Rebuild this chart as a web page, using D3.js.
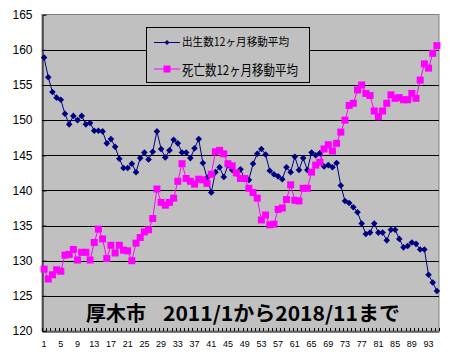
<!DOCTYPE html>
<html><head><meta charset="utf-8">
<script src="https://cdn.jsdelivr.net/npm/d3@7"></script>
<style>body{margin:0;background:#fff}svg{display:block}</style>
</head><body>
<svg id="c" width="450" height="358"></svg>
<script>
const births = [158.9,156.1,154.0,153.2,152.9,150.9,149.4,150.6,150.0,150.6,
149.4,149.6,148.5,148.5,148.4,146.7,147.3,146.2,144.5,143.2,
143.2,143.8,142.6,144.6,145.4,144.4,145.5,148.4,145.9,144.7,
145.7,147.2,146.7,145.4,145.4,144.6,146.0,147.3,143.9,141.8,
139.7,142.6,143.3,141.9,143.6,142.9,142.4,143.0,141.6,141.5,
143.8,145.2,145.9,145.1,142.8,142.3,142.0,141.6,143.3,142.6,
144.8,142.9,144.6,142.9,145.4,145.0,145.3,143.4,143.6,143.3,
143.9,140.7,138.5,138.2,137.6,136.9,135.3,133.8,134.0,135.3,
134.0,134.0,132.9,134.4,134.4,133.1,131.9,132.1,132.6,132.4,
131.6,131.6,128.0,126.9,125.7];
const deaths = [128.8,127.4,128.0,128.7,128.5,130.8,130.9,131.6,130.1,131.2,
131.2,130.1,132.6,134.5,133.1,130.3,132.2,131.1,132.2,131.5,
131.4,130.0,132.5,133.3,134.1,134.4,136.0,140.2,138.3,137.9,
138.3,138.9,141.3,143.8,141.7,141.3,140.9,141.6,141.5,141.0,
142.3,145.5,145.7,145.2,143.8,143.5,142.5,141.7,141.7,140.3,
139.7,138.9,135.8,136.5,135.1,135.2,137.3,137.5,138.7,140.8,
138.6,138.5,140.3,140.3,142.6,143.6,144.0,145.9,146.5,145.6,
146.7,148.3,150.0,152.1,152.4,154.3,155.0,153.8,153.5,151.3,
150.5,151.3,152.4,153.6,153.1,153.2,152.9,152.9,153.8,153.1,
155.7,158.0,157.4,159.5,160.6];
const months = births.map((d,i)=>i+1);
const xLabels = [1,5,9,13,17,21,25,29,33,37,41,45,49,53,57,61,65,69,73,77,81,85,89,93];
const yTicks = [120,125,130,135,140,145,150,155,160,165];
const seriesNames = ["出生数12ヶ月移動平均","死亡数12ヶ月移動平均"];
const titleParts = ["厚木市","2011/1から2018/11まで"];

const svg = d3.select("#c");
const L=42, R=439, T=14.5, B=331;
const x = d3.scaleBand().domain(months).range([L,R]);
const cx = d => x(d)+x.bandwidth()/2;
const y = d3.scaleLinear().domain([120,165]).range([B,14.7]);
const num = "'Liberation Sans', Arial, sans-serif";
const jp = "'Noto Sans CJK JP', sans-serif";

svg.append("rect").attr("x",L).attr("y",T).attr("width",R-L).attr("height",B-T)
  .attr("fill","#C0C0C0").attr("stroke","#808080");

// gridlines
svg.append("g").selectAll("line").data(yTicks.filter(v=>v>120&&v<165)).join("line")
  .attr("x1",L).attr("x2",R)
  .attr("y1",d=>Math.round(y(d))+0.5).attr("y2",d=>Math.round(y(d))+0.5)
  .attr("stroke","#000");

// y axis
const ya = svg.append("g").attr("transform",`translate(${L+0.5},0)`)
  .call(d3.axisLeft(y).tickValues(yTicks).tickSizeInner(-4).tickSizeOuter(0).tickPadding(10));
ya.select(".domain").attr("stroke","#000");
ya.selectAll("text").attr("font-family",num).attr("font-size",12).attr("fill","#000");
ya.selectAll(".tick line").attr("stroke","#000");

// x axis
const xa = svg.append("g").attr("transform",`translate(0,${B+0.5})`)
  .call(d3.axisBottom(x).tickValues(xLabels).tickSize(0).tickPadding(9));
xa.select(".domain").attr("stroke","#000");
xa.selectAll("text").attr("font-family",num).attr("font-size",9).attr("fill","#000");
// minor inside ticks at category boundaries
svg.append("g").selectAll("line").data(d3.range(0,months.length+1)).join("line")
  .attr("x1",k=>Math.round(L+k*x.step())+0.5).attr("x2",k=>Math.round(L+k*x.step())+0.5)
  .attr("y1",B).attr("y2",B-3).attr("stroke","#000");

// title
svg.append("text").attr("x",86).attr("y",321).attr("font-family",jp).attr("font-weight","bold")
  .attr("font-size",20).attr("fill","#000").text(titleParts[0]);
svg.append("text").attr("x",163).attr("y",321).attr("font-family",jp).attr("font-weight","bold")
  .attr("font-size",20).attr("fill","#000").attr("textLength",237).attr("lengthAdjust","spacingAndGlyphs")
  .text(titleParts[1]);

const diamond = r => `M0,${-r}L${r},0L0,${r}L${-r},0Z`;
const line = d3.line().x((d,i)=>cx(months[i])).y(d=>y(d));

// births
svg.append("path").datum(births).attr("d",line).attr("fill","none").attr("stroke","#000080").attr("stroke-width",1);
svg.append("g").selectAll("path").data(births).join("path")
  .attr("transform",(d,i)=>`translate(${cx(months[i])},${y(d)})`)
  .attr("d",diamond(3.3)).attr("fill","#000080");

// deaths
svg.append("path").datum(deaths).attr("d",line).attr("fill","none").attr("stroke","#FF00FF").attr("stroke-width",1);
svg.append("g").selectAll("rect").data(deaths).join("rect")
  .attr("x",(d,i)=>cx(months[i])-3.5).attr("y",d=>y(d)-3.5)
  .attr("width",7).attr("height",7).attr("fill","#FF00FF");

// legend
const lg = svg.append("g");
lg.append("rect").attr("x",146.5).attr("y",27.5).attr("width",163).attr("height",55)
  .attr("fill","#C0C0C0").attr("stroke","#000");
lg.append("line").attr("x1",154).attr("x2",180).attr("y1",42.5).attr("y2",42.5).attr("stroke","#000080");
lg.append("path").attr("transform","translate(167,42.5)").attr("d",diamond(2.5)).attr("fill","#000080");
lg.append("text").attr("x",182).attr("y",46).attr("font-family",jp).attr("font-size",11.5)
  .attr("textLength",107).attr("lengthAdjust","spacingAndGlyphs").attr("fill","#000").text(seriesNames[0]);
lg.append("line").attr("x1",154).attr("x2",180).attr("y1",69).attr("y2",69).attr("stroke","#FF00FF");
lg.append("rect").attr("x",163.5).attr("y",65.5).attr("width",7).attr("height",7).attr("fill","#FF00FF");
lg.append("text").attr("x",182).attr("y",74.5).attr("font-family",jp).attr("font-size",13.5)
  .attr("textLength",116).attr("lengthAdjust","spacingAndGlyphs").attr("fill","#000").text(seriesNames[1]);
</script>
</body></html>
